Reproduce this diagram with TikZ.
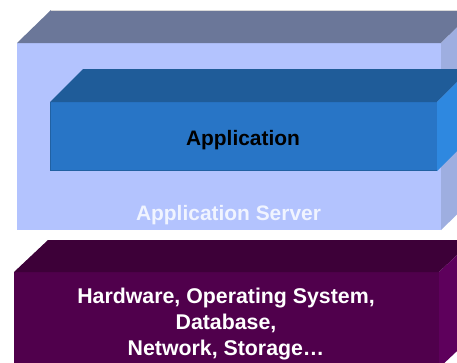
\documentclass[tikz,border=0pt]{standalone}
\usepackage{fontspec}
\setmainfont{Liberation Sans}
\definecolor{srvfront}{RGB}{179,195,254}
\definecolor{srvtop}{RGB}{107,119,153}
\definecolor{srvside}{RGB}{158,174,224}
\definecolor{appfront}{RGB}{40,117,198}
\definecolor{apptop}{RGB}{31,92,153}
\definecolor{appside}{RGB}{46,136,224}
\definecolor{hwfront}{RGB}{80,0,76}
\definecolor{hwtop}{RGB}{61,0,56}
\definecolor{hwside}{RGB}{94,0,92}
\definecolor{srvtext}{RGB}{240,244,255}

\begin{document}
\begin{tikzpicture}[x=1bp,y=-1bp,
        label/.style={font=\fontsize{21}{26}\selectfont\bfseries, inner sep=0pt}]
        \useasboundingbox (0,0) rectangle (457,362);
        \clip (0,0) rectangle (457,362);

        % application server
        \fill[srvfront] (17,43) rectangle (441,230);
        \fill[srvtop] (17,43) -- (51,10) -- (475,10) -- (441,43) -- cycle;
        \fill[srvside] (441,43) -- (475,10) -- (475,197) -- (441,230) -- cycle;
        \draw[black!15, line width=0.6bp] (51,10) -- (475,10);

        % application
        \fill[appfront] (50,102) rectangle (437,171);
        \fill[apptop] (50,102) -- (83,69) -- (470,69) -- (437,102) -- cycle;
        \fill[appside] (437,102) -- (470,69) -- (470,138) -- (437,171) -- cycle;
        \draw[apptop!80!appfront, line width=1bp] (50.5,102) -- (50.5,170.5) -- (437,170.5);

        % hardware
        \fill[hwfront] (14,272) rectangle (439,368);
        \fill[hwtop] (14,272) -- (48,240) -- (473,240) -- (439,272) -- cycle;
        \fill[hwside] (439,272) -- (473,240) -- (473,336) -- (439,368) -- cycle;

        \node[label, anchor=base] at (243,145) (app) {Application};
        \node[label, anchor=base, text=srvtext] at (228.5,220) (srv) {Application Server};
        \node[label, align=center, text=white, font=\fontsize{21.4}{26}\selectfont\bfseries]
            at (226,324) (hw) {Hardware, Operating System,\\ Database,\\ Network, Storage…};
    \end{tikzpicture}
\end{document}
